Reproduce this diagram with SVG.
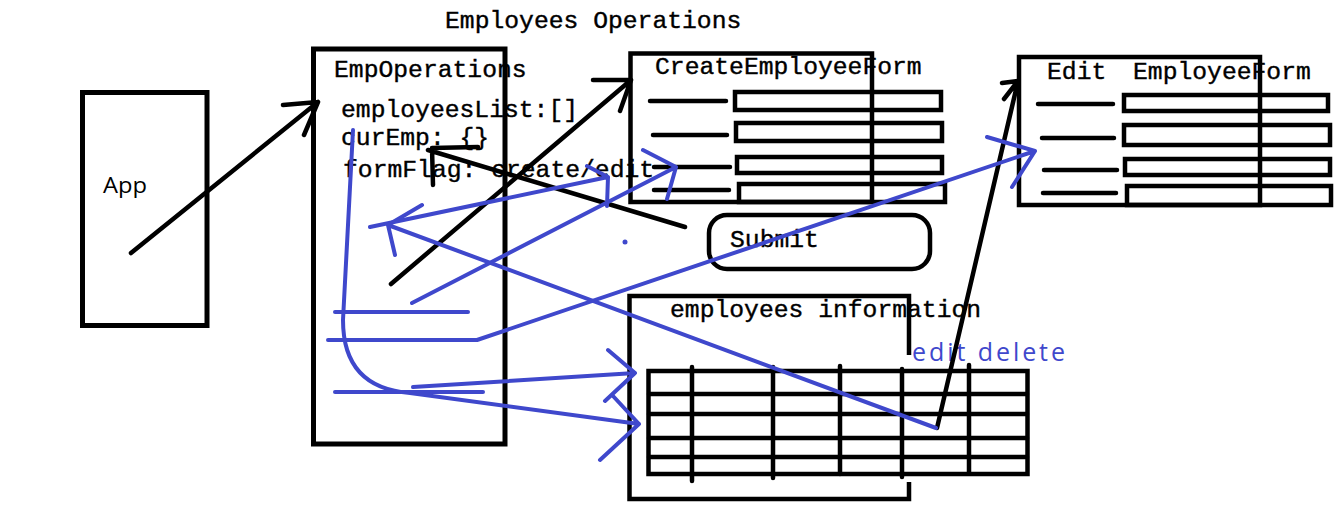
<svg xmlns="http://www.w3.org/2000/svg" width="1334" height="529" viewBox="0 0 1334 529">
<style>
.box{fill:none;stroke:#000;stroke-width:5}
.thin{fill:none;stroke:#000;stroke-width:4.5}
.ln{fill:none;stroke:#000;stroke-width:4.5;stroke-linecap:round;stroke-linejoin:round}
.bl{fill:none;stroke:#3f48cc;stroke-width:4;stroke-linecap:round;stroke-linejoin:round}
.mono{font-family:"Liberation Mono","DejaVu Sans Mono",monospace;font-size:24.7px;fill:#000;stroke:#000;stroke-width:0.4}
.sans{font-family:"Open Sans","Noto Sans","Liberation Sans",sans-serif;font-size:22px}
.lbl{font-size:25px;fill:#3f48cc}
</style>
<rect width="1334" height="529" fill="#fff"/>
<g id="title"><text class="mono" x="445" y="28">Employees Operations</text></g>
<g id="node-app">
<rect class="box" x="82.5" y="92.5" width="124.5" height="233"/>
<text class="sans" x="103" y="193" fill="#000" textLength="44" lengthAdjust="spacingAndGlyphs">App</text>
</g>
<g id="node-empoperations">
<rect class="box" x="313.5" y="49" width="191.5" height="395"/>
<text class="mono" x="334" y="77">EmpOperations</text>
<text class="mono" x="341" y="117">employeesList:[]</text>
<text class="mono" x="341" y="145">curEmp: {}</text>
<text class="mono" x="343" y="177">formFlag: create/edit</text>
</g>
<g id="node-create-form">
<rect class="thin" x="630.5" y="53.5" width="241.5" height="148.5"/>
<text class="mono" x="655" y="74">CreateEmployeeForm</text>
<path class="ln" d="M650,101H726M653,135H727M654,167H730M654,190H729"/>
<rect class="thin" x="735" y="92" width="206" height="18"/>
<rect class="thin" x="736" y="123" width="206" height="18"/>
<rect class="thin" x="737" y="157" width="205" height="16"/>
<rect class="thin" x="739" y="184" width="206" height="18"/>
</g>
<g id="node-submit">
<rect class="thin" x="709" y="215" width="221" height="54" rx="18"/>
<text class="mono" x="730" y="247">Submit</text>
</g>
<g id="node-edit-form">
<rect class="thin" x="1019" y="57" width="241" height="148"/>
<text class="mono" x="1047" y="79">Edit</text>
<text class="mono" x="1133" y="79">EmployeeForm</text>
<path class="ln" d="M1038,104H1113M1042,138H1114M1044,170H1117M1043,193H1116"/>
<rect class="thin" x="1124" y="95" width="204" height="16"/>
<rect class="thin" x="1124" y="125" width="206" height="20"/>
<rect class="thin" x="1125" y="159" width="205" height="16"/>
<rect class="thin" x="1127" y="186" width="204" height="19"/>
</g>
<g id="node-employees-information">
<path class="thin" d="M909,355V296H629.5V499H909V482"/>
<text class="mono" x="670" y="317">employees information</text>
<text class="sans lbl" x="912" y="361" textLength="153" lengthAdjust="spacing">edit delete</text>
<rect class="thin" x="648.5" y="371" width="379" height="103"/>
<path class="ln" d="M649,394H1027M649,414H1027M649,438H1027M649,457H1027M692,367V481M773,367V478M840,366V474M902,369V477M969,365V472"/>
</g>
<g id="connectors">
<path class="ln" d="M131,253L318,102M283,105L318,102L304,135"/>
<path class="ln" d="M391,284L631,80M593,80L631,80L620,111"/>
<path class="ln" d="M685,227L428,150M478,147L432,148L433,185"/>
<path class="ln" d="M937,428L1018,81M1002,83L1018,81L1004,99"/>
<path class="bl" d="M353,130L343,320Q343,388 410,393L639,424M613,396L639,424L600,460"/>
<path class="bl" d="M413,387L635,373M608,350L635,373L605,401"/>
<path class="bl" d="M335,312H468"/>
<path class="bl" d="M328,340H477L1035,151M987,137L1035,151L1012,187"/>
<path class="bl" d="M335,392H483"/>
<path class="bl" d="M412,303L676,167M643,150L676,167L667,199"/>
<path class="bl" d="M370,227L608,177M587,166L608,177L607,206"/>
<path class="bl" d="M936,428L388,225M422,205L388,225L395,255"/>
<circle cx="625" cy="242" r="2.5" fill="#3f48cc"/>
</g>
</svg>
